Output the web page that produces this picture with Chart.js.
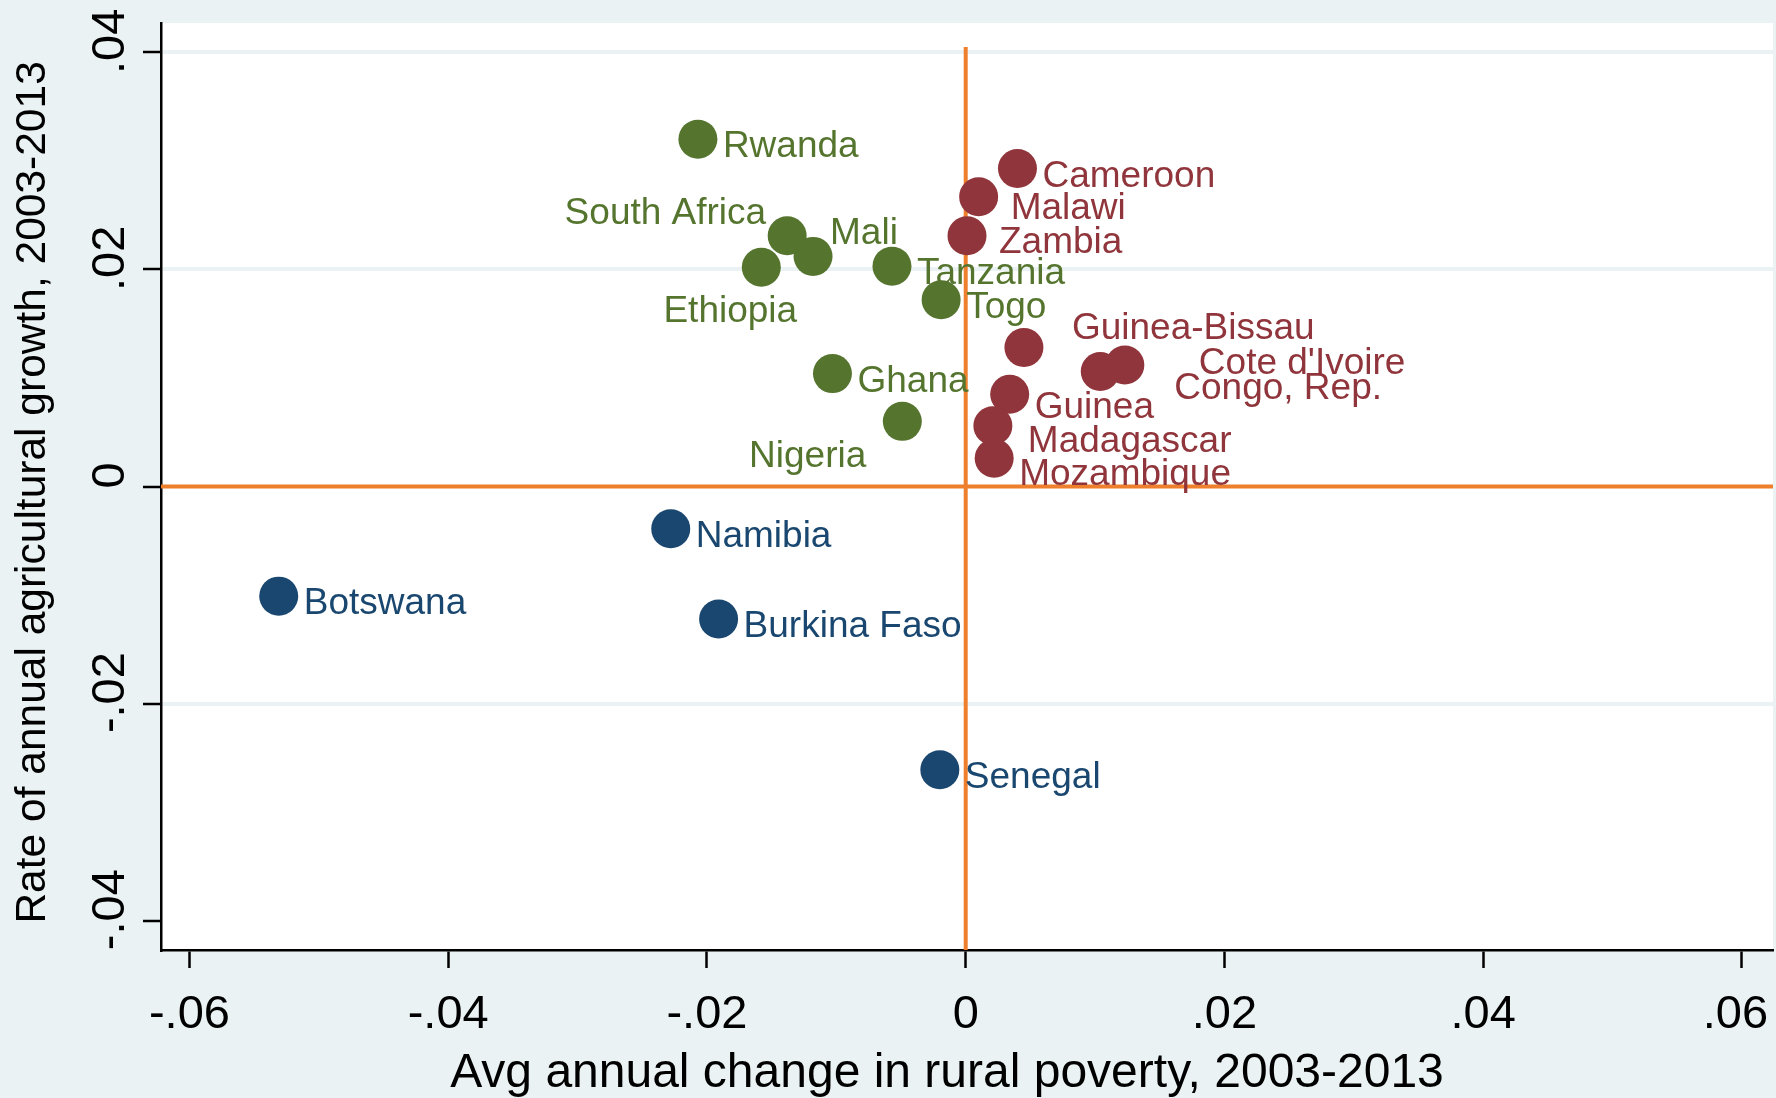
<!DOCTYPE html>
<html>
<head>
<meta charset="utf-8">
<script src="https://cdn.jsdelivr.net/npm/chart.js@4.4.1/dist/chart.umd.min.js"></script>
<style>
  html, body { margin: 0; padding: 0; background: #eaf2f3; }
  canvas { display: block; }
</style>
</head>
<body>
<canvas id="myChart" width="1776" height="1098"></canvas>
<script>
// Countries and their values
const countries = [
  "Rwanda", "South Africa", "Mali", "Ethiopia", "Tanzania", "Togo", "Ghana", "Nigeria",
  "Cameroon", "Malawi", "Zambia", "Guinea-Bissau", "Cote d'Ivoire", "Congo, Rep.", "Guinea", "Madagascar", "Mozambique",
  "Namibia", "Botswana", "Burkina Faso", "Senegal"
];
const povertyChange = [
  -0.0207, -0.0138, -0.0118, -0.0158, -0.0057, -0.0019, -0.0103, -0.0049,
  0.0040, 0.0010, 0.0001, 0.0045, 0.0123, 0.0104, 0.0034, 0.0021, 0.0022,
  -0.0228, -0.0531, -0.0191, -0.0020
];
const agGrowth = [
  0.0320, 0.0231, 0.0212, 0.0202, 0.0203, 0.0172, 0.0104, 0.0060,
  0.0293, 0.0267, 0.0231, 0.0128, 0.0112, 0.0106, 0.0085, 0.0056, 0.0026,
  -0.0039, -0.0101, -0.0122, -0.0261
];
// 0 = poverty down with growth, 1 = poverty up, 2 = agriculture shrinking
const groupOf = [
  0, 0, 0, 0, 0, 0, 0, 0,
  1, 1, 1, 1, 1, 1, 1, 1, 1,
  2, 2, 2, 2
];

const xTickValues = [-0.06, -0.04, -0.02, 0, 0.02, 0.04, 0.06];
const xTickLabels = ["-.06", "-.04", "-.02", "0", ".02", ".04", ".06"];
const yTickValues = [-0.04, -0.02, 0, 0.02, 0.04];
const yTickLabels = ["-.04", "-.02", "0", ".02", ".04"];

const groupColors = ["#55752f", "#90353b", "#1a476f"];
const refLineColor = "#ee7f2d";
const refLineTop = 0.0405;

// label placement, px from marker centre (Stata style mlabel positions)
const labelDefault = { dx: 25, dy: 8, align: "left" };
const labelPlace = {
  "South Africa": { dx: -21, dy: -22, align: "right" },
  "Mali": { dx: 17, dy: -23 },
  "Ethiopia": { dx: -31, dy: 45, align: "center" },
  "Nigeria": { dx: -36, dy: 35, align: "right" },
  "Malawi": { dx: 32, dy: 12 },
  "Zambia": { dx: 32, dy: 7 },
  "Guinea-Bissau": { dx: 48, dy: -19 },
  "Cote d'Ivoire": { dx: 74, dy: -1 },
  "Congo, Rep.": { dx: 74, dy: 17 },
  "Guinea": { dx: 25, dy: 14 },
  "Madagascar": { dx: 35, dy: 16 },
  "Mozambique": { dx: 25, dy: 17 }
};

const FONT = "'Liberation Sans', Arial, Helvetica, sans-serif";
Chart.defaults.font.family = FONT;

const datasets = groupColors.map((color, g) => {
  const pts = [];
  countries.forEach((name, i) => {
    if (groupOf[i] === g) pts.push({ x: povertyChange[i], y: agGrowth[i], name: name });
  });
  return {
    data: pts,
    backgroundColor: color,
    borderWidth: 0,
    pointRadius: 19.5,
    pointHoverRadius: 19.5
  };
});

const stataLook = {
  id: "stataLook",
  beforeDraw(chart) {
    const { ctx, chartArea: a } = chart;
    ctx.save();
    ctx.fillStyle = "#eaf2f3";
    ctx.fillRect(0, 0, chart.width, chart.height);
    ctx.fillStyle = "#ffffff";
    ctx.fillRect(a.left, a.top, a.right - a.left, a.bottom - a.top);
    ctx.restore();
  },
  beforeDatasetsDraw(chart) {
    const { ctx, chartArea: a, scales } = chart;
    const x0 = scales.x.getPixelForValue(0);
    const y0 = scales.y.getPixelForValue(0);
    ctx.save();
    ctx.strokeStyle = refLineColor;
    ctx.lineWidth = 4;
    ctx.beginPath();
    ctx.moveTo(a.left, y0);
    ctx.lineTo(a.right, y0);
    ctx.moveTo(x0, scales.y.getPixelForValue(refLineTop));
    ctx.lineTo(x0, a.bottom);
    ctx.stroke();
    ctx.restore();
  },
  afterDatasetsDraw(chart) {
    const { ctx } = chart;
    ctx.save();
    ctx.font = "37px " + FONT;
    ctx.textBaseline = "middle";
    chart.data.datasets.forEach((ds, di) => {
      const meta = chart.getDatasetMeta(di);
      ctx.fillStyle = ds.backgroundColor;
      meta.data.forEach((pt, i) => {
        const name = ds.data[i].name;
        const p = Object.assign({}, labelDefault, labelPlace[name] || {});
        ctx.textAlign = p.align || "left";
        ctx.fillText(name, pt.x + p.dx, pt.y + p.dy);
      });
    });
    ctx.restore();
  }
};

const config = {
  type: "scatter",
  data: { datasets: datasets },
  options: {
    responsive: false,
    devicePixelRatio: 1,
    animation: false,
    layout: { autoPadding: false, padding: { top: 23, right: 3, left: 0, bottom: 0 } },
    plugins: {
      legend: { display: false },
      tooltip: { enabled: false }
    },
    scales: {
      x: {
        type: "linear",
        min: -0.0622,
        max: 0.0624,
        afterBuildTicks: (s) => { s.ticks = xTickValues.map(v => ({ value: v })); },
        afterFit: (s) => { s.height = 148; s.paddingLeft = 0; s.paddingRight = 0; },
        ticks: {
          color: "#000",
          font: { size: 47 },
          padding: 19,
          maxRotation: 0,
          minRotation: 0,
          autoSkip: false,
          callback: (v, i) => {
            const lab = xTickLabels[xTickValues.indexOf(v)];
            // last label nudged inward so it fits in the figure, as Stata does
            return i === xTickValues.length - 1 ? lab + " " : lab;
          }
        },
        grid: {
          drawOnChartArea: false,
          tickColor: "#000",
          tickLength: 18,
          tickWidth: 2.5
        },
        border: { display: true, color: "#000", width: 2.5 },
        title: {
          display: true,
          text: "Avg annual change in rural poverty, 2003-2013   ",
          color: "#000",
          font: { size: 48, lineHeight: 1 },
          padding: { top: 0, bottom: 0 }
        }
      },
      y: {
        type: "linear",
        min: -0.0427,
        max: 0.0427,
        afterBuildTicks: (s) => { s.ticks = yTickValues.map(v => ({ value: v })); },
        afterFit: (s) => { s.width = 161; },
        ticks: {
          color: "#000",
          font: { size: 47 },
          minRotation: 90,
          maxRotation: 90,
          crossAlign: "center",
          padding: -9,
          labelOffset: -11,
          autoSkip: false,
          callback: (v) => yTickLabels[yTickValues.indexOf(v)]
        },
        grid: {
          color: (c) => (c.tick && (c.tick.value === 0 || c.tick.value === -0.04)) ? "rgba(0,0,0,0)" : "#eaf2f3",
          lineWidth: 4,
          tickColor: "#000",
          tickLength: 18,
          tickWidth: 2.5
        },
        border: { display: true, color: "#000", width: 2.5 },
        title: {
          display: true,
          text: "Rate of annual agricultural growth, 2003-2013 ",
          color: "#000",
          font: { size: 42.5, lineHeight: 1.2 },
          padding: { top: 8, bottom: 0 }
        }
      }
    }
  },
  plugins: [stataLook]
};

const ctx = document.getElementById("myChart").getContext("2d");
new Chart(ctx, config);
</script>
</body>
</html>
